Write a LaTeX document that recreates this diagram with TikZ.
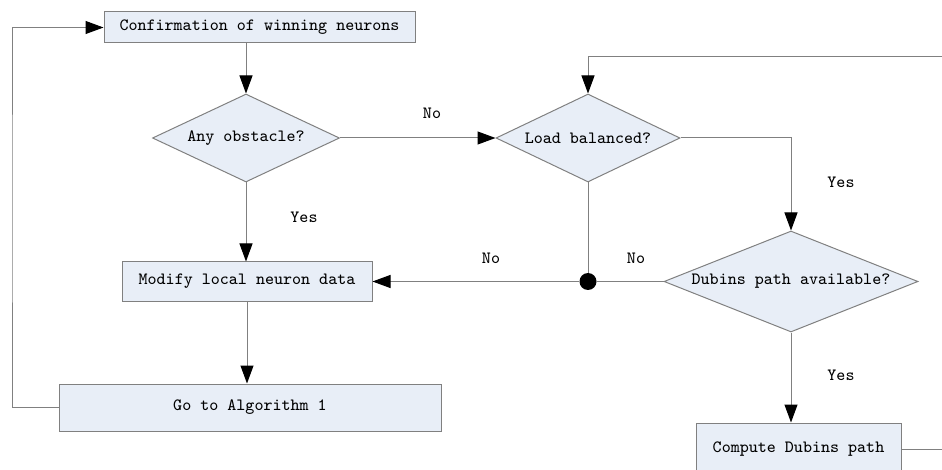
\documentclass[tikz,border=0pt]{standalone}
\usepackage{fontspec}
\usepackage{tikz}
\usetikzlibrary{positioning, shapes.geometric, arrows.meta}
\definecolor{boxfill}{RGB}{232,238,247}
\definecolor{linegray}{RGB}{128,128,128}

\begin{document}
\begin{tikzpicture}[
            x=0.5pt, y=-0.5pt,
            every node/.style={font=\ttfamily\fontsize{8.6}{10}\selectfont},
            stepbox/.style={draw=linegray, fill=boxfill, rectangle, inner sep=0pt, line width=0.5pt},
            decision/.style={draw=linegray, fill=boxfill, diamond, aspect=2.2, inner sep=0pt, line width=0.5pt},
            flow/.style={draw=linegray, line width=0.5pt},
            arr/.style={flow, -{Triangle[length=9pt, width=6.5pt, black]}},
            lbl/.style={inner sep=1pt}
        ]
            \clip (0,0) rectangle (942,470);

            % Блоки и условия
            \node[stepbox, minimum width=155.5pt, minimum height=15.5pt] (confirm) at (259.5,27.5) {Confirmation of winning neurons};
            \node[decision, minimum width=93.5pt, minimum height=44pt] (obstacle) at (246,138) {Any obstacle?};
            \node[decision, minimum width=92pt, minimum height=44pt] (balanced) at (588,138) {Load balanced?};
            \node[decision, aspect=2.5, minimum width=127pt, minimum height=50.5pt] (dubins) at (791,281.5) {Dubins path available?};
            \node[stepbox, minimum width=125pt, minimum height=19.5pt] (modify) at (247,281.5) {Modify local neuron data};
            \node[stepbox, minimum width=191pt, minimum height=23.5pt] (algorithm) at (250,407.5) {Go to Algorithm 1};
            \node[stepbox, minimum width=102.5pt, minimum height=26pt] (compute) at (798.5,449) {Compute Dubins path};
            \node[circle, fill=black, inner sep=0pt, minimum size=8.5pt] (junction) at (588,281.5) {};

            \coordinate (leftrail) at (12,200);
            \coordinate (topright) at (942,57);
            \coordinate (outright) at (942,449);

            % Подписи
            \node[lbl] (noObstacle) at (432,113) {No};
            \node[lbl] (yesObstacle) at (304,217) {Yes};
            \node[lbl] (yesBalanced) at (841,182) {Yes};
            \node[lbl] (noBalanced) at (491,258) {No};
            \node[lbl] (noDubins) at (636,258) {No};
            \node[lbl] (yesDubins) at (841,375) {Yes};

            % Связи
            \draw[arr] (obstacle.north |- confirm.south) -- (obstacle.north);
            \draw[arr] (obstacle.east) -- (balanced.west);
            \draw[arr] (obstacle.south) -- (modify.north -| obstacle.south);
            \draw[arr] (balanced.east) -| (dubins.north);
            \draw[flow] (balanced.south) -- (junction);
            \draw[arr] (dubins.west) -- (junction) -- (modify.east);
            \draw[arr] (dubins.south) -- (dubins.south |- compute.north);
            \draw[arr] (modify.south) -- (algorithm.north -| modify.south);
            \draw[arr] (algorithm.west) -| (leftrail) |- (confirm.west);
            \draw[arr] (topright) -| (balanced.north);
            \draw[flow] (compute.east) -- (outright);
        \end{tikzpicture}
\end{document}
